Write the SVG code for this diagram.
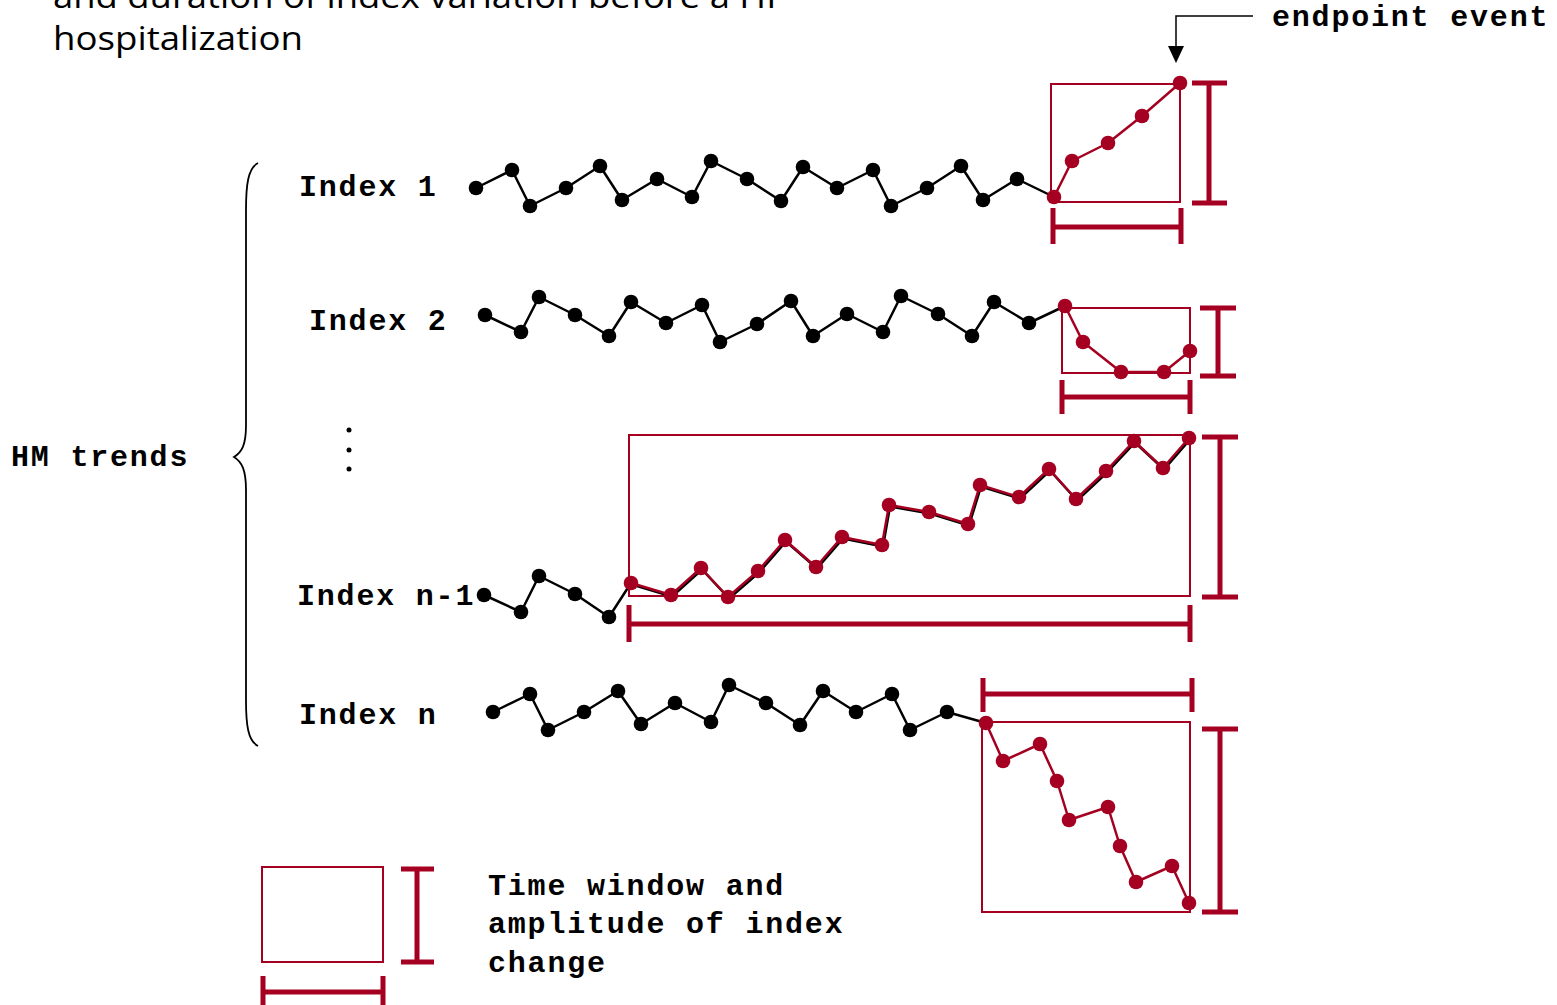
<svg xmlns="http://www.w3.org/2000/svg" width="1557" height="1005" viewBox="0 0 1557 1005">
<style>
.title{font-family:"Open Sans","Liberation Sans",sans-serif;font-size:33px;fill:#000}
.mono{font-family:"Liberation Mono","Courier New",monospace;font-weight:bold;font-size:30px;letter-spacing:1.8px;fill:#000}
.bl{fill:none;stroke:#000;stroke-width:2.5;stroke-linejoin:round}
.rl{fill:none;stroke:#A50021;stroke-width:2.5;stroke-linejoin:round}
.bd circle{fill:#000}
.rd circle{fill:#A50021}
.box{fill:none;stroke:#A50021;stroke-width:2}
.bar{fill:none;stroke:#A50021;stroke-width:5}
</style>
<g id="title">
<text class="title" x="53" y="8" textLength="732" lengthAdjust="spacingAndGlyphs">and duration of index variation before a HF</text>
<text class="title" x="53" y="50" textLength="250" lengthAdjust="spacingAndGlyphs">hospitalization</text>
</g>
<g id="hm-trends">
<text class="mono" x="11" y="466">HM trends</text>
<path d="M258,163 C248,168 246,185 246,210 L246,425 C246,445 242,452 234,457 C242,462 246,470 246,490 L246,700 C246,725 248,741 258,746" fill="none" stroke="#000" stroke-width="1.8"/>
<circle cx="349" cy="430" r="2.5" fill="#000"/>
<circle cx="349" cy="450" r="2.5" fill="#000"/>
<circle cx="349" cy="469" r="2.5" fill="#000"/>
</g>
<g id="index1">
<text class="mono" x="299" y="196">Index 1</text>
<rect class="box" x="1051" y="84" width="129" height="118"/>
<path class="bar" d="M1209,83 V203 M1192,83 H1227 M1192,203 H1227"/>
<path class="bar" d="M1053,227 H1181 M1053,208 V244 M1181,208 V244"/>
<polyline class="bl" points="476,188 512,170 530,206 566,188 600,166 622,200 657,179 692,197 711,161 747,179 781,201 803,167 837,188 873,170 891,206 927,188 961,166 983,200 1017,179 1054,197"/>
<polyline class="rl" points="1054,197 1072,161 1108,143 1142,116 1180,83"/>
<g class="bd"><circle cx="476" cy="188" r="7.3"/><circle cx="512" cy="170" r="7.3"/><circle cx="530" cy="206" r="7.3"/><circle cx="566" cy="188" r="7.3"/><circle cx="600" cy="166" r="7.3"/><circle cx="622" cy="200" r="7.3"/><circle cx="657" cy="179" r="7.3"/><circle cx="692" cy="197" r="7.3"/><circle cx="711" cy="161" r="7.3"/><circle cx="747" cy="179" r="7.3"/><circle cx="781" cy="201" r="7.3"/><circle cx="803" cy="167" r="7.3"/><circle cx="837" cy="188" r="7.3"/><circle cx="873" cy="170" r="7.3"/><circle cx="891" cy="206" r="7.3"/><circle cx="927" cy="188" r="7.3"/><circle cx="961" cy="166" r="7.3"/><circle cx="983" cy="200" r="7.3"/><circle cx="1017" cy="179" r="7.3"/></g>
<g class="rd"><circle cx="1054" cy="197" r="7.3"/><circle cx="1072" cy="161" r="7.3"/><circle cx="1108" cy="143" r="7.3"/><circle cx="1142" cy="116" r="7.3"/><circle cx="1180" cy="83" r="7.3"/></g>
</g>
<g id="index2">
<text class="mono" x="309" y="330">Index 2</text>
<rect class="box" x="1062" y="308" width="128" height="65"/>
<path class="bar" d="M1218,308 V376 M1200,308 H1236 M1200,376 H1236"/>
<path class="bar" d="M1062,397 H1190 M1062,380 V414 M1190,380 V414"/>
<polyline class="bl" points="485,315 521,332 539,297 575,315 609,336 631,302 666,323 702,305 720,342 757,324 791,301 813,336 847,314 883,332 901,296 938,314 972,336 994,302 1029,323 1065,306"/>
<polyline class="rl" points="1065,306 1083,342 1121,372 1164,372 1190,351"/>
<g class="bd"><circle cx="485" cy="315" r="7.3"/><circle cx="521" cy="332" r="7.3"/><circle cx="539" cy="297" r="7.3"/><circle cx="575" cy="315" r="7.3"/><circle cx="609" cy="336" r="7.3"/><circle cx="631" cy="302" r="7.3"/><circle cx="666" cy="323" r="7.3"/><circle cx="702" cy="305" r="7.3"/><circle cx="720" cy="342" r="7.3"/><circle cx="757" cy="324" r="7.3"/><circle cx="791" cy="301" r="7.3"/><circle cx="813" cy="336" r="7.3"/><circle cx="847" cy="314" r="7.3"/><circle cx="883" cy="332" r="7.3"/><circle cx="901" cy="296" r="7.3"/><circle cx="938" cy="314" r="7.3"/><circle cx="972" cy="336" r="7.3"/><circle cx="994" cy="302" r="7.3"/><circle cx="1029" cy="323" r="7.3"/></g>
<g class="rd"><circle cx="1065" cy="306" r="7.3"/><circle cx="1083" cy="342" r="7.3"/><circle cx="1121" cy="372" r="7.3"/><circle cx="1164" cy="372" r="7.3"/><circle cx="1190" cy="351" r="7.3"/></g>
</g>
<g id="index-n-1">
<text class="mono" x="297" y="605">Index n-1</text>
<rect class="box" x="629" y="435" width="561" height="161"/>
<path class="bar" d="M1220,437 V597 M1202,437 H1238 M1202,597 H1238"/>
<path class="bar" d="M629,624 H1190 M629,605 V642 M1190,605 V642"/>
<polyline class="bl" points="484,595 521,612 539,576 575,594 609,617 631,583"/>
<polyline class="bl" transform="translate(1,1.5)" points="631,583 671,595 701,568 728,597 758,571 785,540 816,567 842,537 882,545 889,505 929,512 968,524 980,485 1019,497 1049,469 1076,499 1106,471 1134,441 1163,468 1189,438"/>
<polyline class="rl" points="631,583 671,595 701,568 728,597 758,571 785,540 816,567 842,537 882,545 889,505 929,512 968,524 980,485 1019,497 1049,469 1076,499 1106,471 1134,441 1163,468 1189,438"/>
<g class="bd"><circle cx="484" cy="595" r="7.3"/><circle cx="521" cy="612" r="7.3"/><circle cx="539" cy="576" r="7.3"/><circle cx="575" cy="594" r="7.3"/><circle cx="609" cy="617" r="7.3"/></g>
<g class="rd"><circle cx="631" cy="583" r="7.3"/><circle cx="671" cy="595" r="7.3"/><circle cx="701" cy="568" r="7.3"/><circle cx="728" cy="597" r="7.3"/><circle cx="758" cy="571" r="7.3"/><circle cx="785" cy="540" r="7.3"/><circle cx="816" cy="567" r="7.3"/><circle cx="842" cy="537" r="7.3"/><circle cx="882" cy="545" r="7.3"/><circle cx="889" cy="505" r="7.3"/><circle cx="929" cy="512" r="7.3"/><circle cx="968" cy="524" r="7.3"/><circle cx="980" cy="485" r="7.3"/><circle cx="1019" cy="497" r="7.3"/><circle cx="1049" cy="469" r="7.3"/><circle cx="1076" cy="499" r="7.3"/><circle cx="1106" cy="471" r="7.3"/><circle cx="1134" cy="441" r="7.3"/><circle cx="1163" cy="468" r="7.3"/><circle cx="1189" cy="438" r="7.3"/></g>
</g>
<g id="index-n">
<text class="mono" x="299" y="724">Index n</text>
<rect class="box" x="982" y="722" width="208" height="190"/>
<path class="bar" d="M983,694 H1192 M983,678 V712 M1192,678 V712"/>
<path class="bar" d="M1220,729 V912 M1202,729 H1238 M1202,912 H1238"/>
<polyline class="bl" points="493,712 530,694 548,730 584,712 618,691 641,724 675,703 711,722 729,685 766,703 800,725 823,691 856,712 892,694 910,730 947,712 986,723"/>
<polyline class="rl" points="986,723 1003,761 1040,744 1057,781 1069,820 1108,807 1120,846 1136,882 1172,866 1189,903"/>
<g class="bd"><circle cx="493" cy="712" r="7.3"/><circle cx="530" cy="694" r="7.3"/><circle cx="548" cy="730" r="7.3"/><circle cx="584" cy="712" r="7.3"/><circle cx="618" cy="691" r="7.3"/><circle cx="641" cy="724" r="7.3"/><circle cx="675" cy="703" r="7.3"/><circle cx="711" cy="722" r="7.3"/><circle cx="729" cy="685" r="7.3"/><circle cx="766" cy="703" r="7.3"/><circle cx="800" cy="725" r="7.3"/><circle cx="823" cy="691" r="7.3"/><circle cx="856" cy="712" r="7.3"/><circle cx="892" cy="694" r="7.3"/><circle cx="910" cy="730" r="7.3"/><circle cx="947" cy="712" r="7.3"/></g>
<g class="rd"><circle cx="986" cy="723" r="7.3"/><circle cx="1003" cy="761" r="7.3"/><circle cx="1040" cy="744" r="7.3"/><circle cx="1057" cy="781" r="7.3"/><circle cx="1069" cy="820" r="7.3"/><circle cx="1108" cy="807" r="7.3"/><circle cx="1120" cy="846" r="7.3"/><circle cx="1136" cy="882" r="7.3"/><circle cx="1172" cy="866" r="7.3"/><circle cx="1189" cy="903" r="7.3"/></g>
</g>
<g id="endpoint-event">
<text class="mono" x="1272" y="26">endpoint event</text>
</g>
<g id="connectors">
<path d="M1253,16 H1176 V47" fill="none" stroke="#000" stroke-width="1.5"/>
<polygon points="1168,46 1184,46 1176,63" fill="#000"/>
</g>
<g id="legend">
<rect class="box" x="262" y="867" width="121" height="95"/>
<path class="bar" d="M417,869 V962 M401,869 H434 M401,962 H434"/>
<path class="bar" d="M263,992 H383 M263,976 V1010 M383,976 V1010"/>
<text class="mono" x="488" y="895">Time window and</text>
<text class="mono" x="488" y="933">amplitude of index</text>
<text class="mono" x="488" y="972">change</text>
</g>
</svg>
